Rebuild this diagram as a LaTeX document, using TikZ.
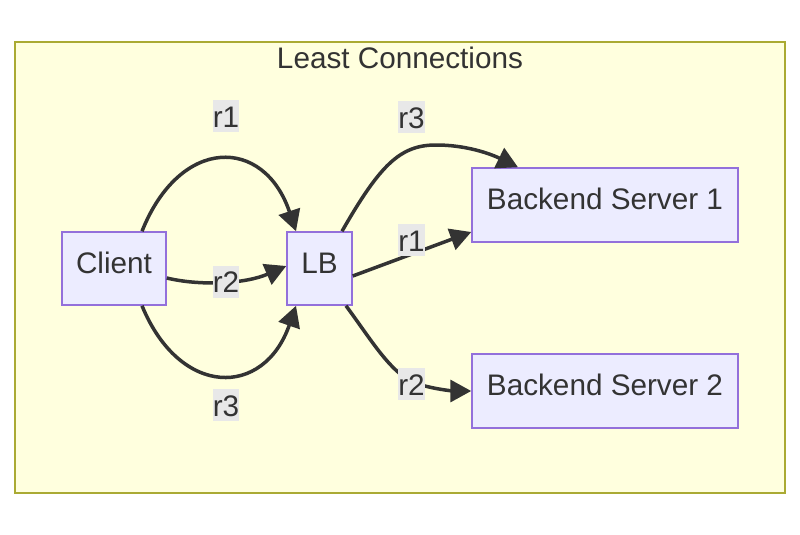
\documentclass[tikz,border=0pt]{standalone}
\usepackage{fontspec}
\setmainfont{Liberation Sans}
\usetikzlibrary{arrows.meta}
\definecolor{clfill}{HTML}{FFFFDE}
\definecolor{clstroke}{HTML}{AAAA33}
\definecolor{ndfill}{HTML}{ECECFF}
\definecolor{ndstroke}{HTML}{9370DB}
\definecolor{txt}{HTML}{333333}
\definecolor{lblbg}{HTML}{E8E8E8}
\definecolor{edge}{HTML}{333333}
\begin{document}
\begin{tikzpicture}[x=1pt,y=-1pt,
  every node/.style={font=\fontsize{29.7pt}{36pt}\selectfont, text=txt},
  box/.style={draw=ndstroke, fill=ndfill, line width=1.5pt, inner sep=0pt,
    text height=21pt, text depth=12pt},
  lbl/.style={fill=lblbg, inner xsep=0pt, inner ysep=0pt, text height=27pt, text depth=5pt},
  conn/.style={draw=edge, line width=3.5pt, -{Triangle[length=21pt,width=22pt]}}]
\useasboundingbox (0,0) rectangle (800,535);
\fill[white] (0,0) rectangle (800,535);
\draw[draw=clstroke, fill=clfill, line width=1.5pt] (15,42) rectangle (785,493);
\node (title) at (400,58) {Least Connections};
\node[box, minimum width=104pt, minimum height=73pt] (client) at (114,268.5) {Client};
\node[box, minimum width=65pt, minimum height=73pt] (lb) at (319.5,268.5) {LB};
\node[box, minimum width=266pt, minimum height=74pt] (bs1) at (605,205) {Backend Server 1};
\node[box, minimum width=266pt, minimum height=74pt] (bs2) at (605,391) {Backend Server 2};
% edges
\draw[conn] ([xshift=28pt]client.north) .. controls (180,136) and (264,136) .. ([xshift=-23.5pt]lb.north);
\draw[conn] ([yshift=-9.5pt]client.east) .. controls (200,286) and (245,284) .. ([yshift=2.5pt]lb.west);
\draw[conn] ([xshift=28pt]client.south) .. controls (180,398) and (264,398) .. ([xshift=-23.5pt]lb.south);
\coordinate (m1) at (436,145);
\draw[conn] ([xshift=22.5pt]lb.north) .. controls (380,165) and (400,145) .. (m1) .. controls (470,145) and (495,156) .. ([xshift=-87pt]bs1.north);
\draw[conn] ([yshift=-7.5pt]lb.east) -- ([yshift=-27pt]bs1.west);
\coordinate (m2) at (425,386);
\draw[conn] ([xshift=26.5pt]lb.south) .. controls (375,345) and (395,381) .. (m2) .. controls (440,390) and (455,391) .. (bs2.west);
% labels
\node[lbl] (l1) at (226,116) {r1};
\node[lbl] (l2) at (226,281.5) {r2};
\node[lbl] (l3) at (226,405) {r3};
\node[lbl] (l4) at (411.5,117) {r3};
\node[lbl] (l5) at (411.5,240) {r1};
\node[lbl] (l6) at (411.5,384) {r2};
\end{tikzpicture}
\end{document}
